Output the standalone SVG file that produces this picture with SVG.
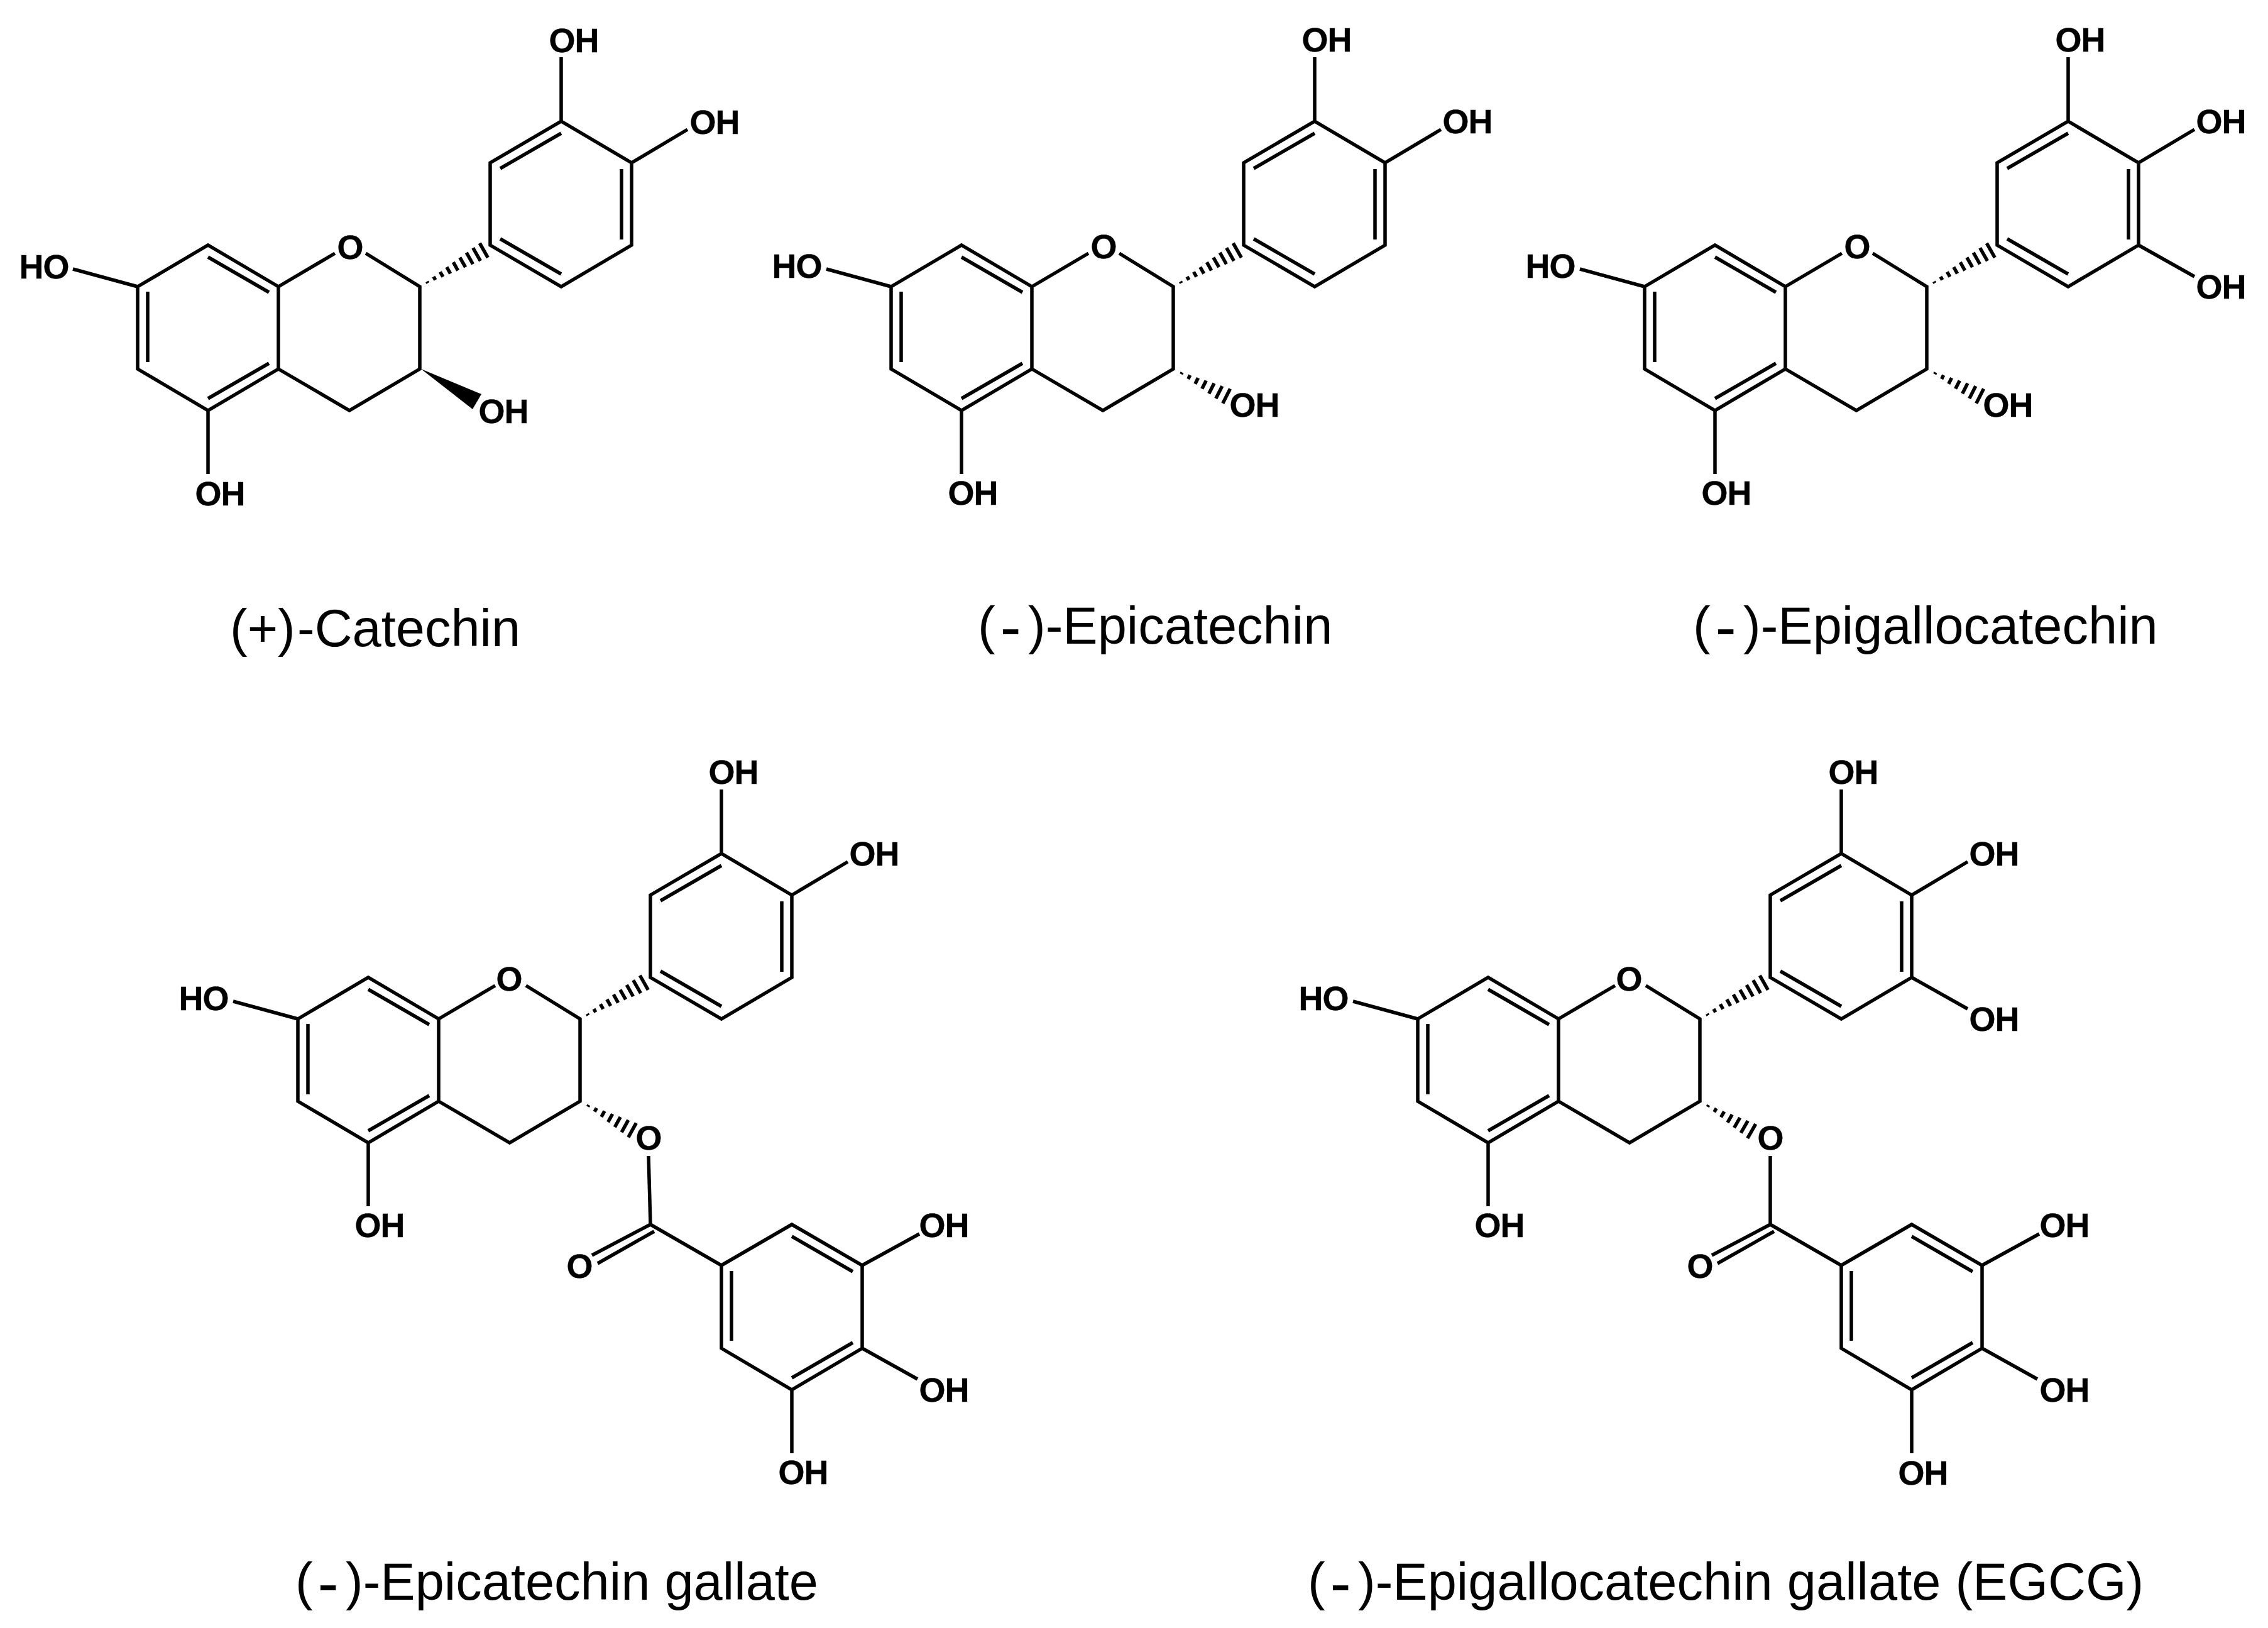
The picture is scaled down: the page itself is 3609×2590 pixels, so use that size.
<svg xmlns="http://www.w3.org/2000/svg" xmlns:xlink="http://www.w3.org/1999/xlink" width="3609" height="2590" viewBox="0 0 3609 2590">
<style>
.b{fill:none;stroke:#000;stroke-width:5.5;stroke-linejoin:miter;stroke-linecap:butt}
.h{fill:none;stroke:#000;stroke-width:5.5}
.a{font-family:"Liberation Sans",Arial,sans-serif;font-weight:700;font-size:54px;letter-spacing:-1px;text-anchor:middle;fill:#000;stroke:#000;stroke-width:.4px}
.n{font-family:"Liberation Sans",Arial,sans-serif;font-size:83px;fill:#000}
.m{font-size:100px}
</style>
<defs>
<path id="flavan" d="M0 0L112 -66L224 0V131L112 197L0 131Z M112 -47L209 9 M16 8V120 M112 178L209 122 M224 0L314 -53 M363 -53L449 0V131L337 197L224 131 M0 0L-103 -28 M112 197V298"/>
<path id="ringB" d="M561 -66V-197L674 -263L786 -197V-66L674 0Z M674 -244L577 -188 M770 -187V-75 M577 -76L674 -20 M674 -263V-365 M786 -197L875 -250"/>
<path id="ox3" d="M786 -66L875 -16"/>
<path id="hashLong" class="h" d="M14 -1.5V1.5M26.9 -3V3M39.8 -4.5V4.5M52.6 -6V6M65.5 -7.5V7.5M78.4 -9V9M91.2 -10.5V10.5M104.1 -12V12M117 -13.3V13.3"/>
<path id="hashShort" class="h" d="M15 -1.5V1.5M28.3 -3.4V3.4M41.7 -5.3V5.3M55 -7.3V7.3M68.3 -9.2V9.2M81.7 -11.1V11.1M95 -13V13"/>
<path id="galloyl" d="M561 327L674 392V524L786 590L898 524V392L786 327L674 392 M561 327L468 376 M567 338L477 389 M786 346L883 402 M690 401V512 M786 571L883 515 M898 392L989 342 M898 524L986 573 M786 590V691"/>
</defs>
<rect width="3609" height="2590" fill="#fff"/>

<g id="catechin" transform="translate(219 456)">
<g class="b"><use href="#flavan"/><use href="#ringB"/></g>
<use href="#hashLong" transform="translate(449 0) rotate(-29.5)"/>
<polygon points="451,131 547,171 533,195" fill="#000"/>
<text class="a" x="338" y="-44">O</text>
<text class="a" x="-149" y="-13">HO</text>
<text class="a" x="131" y="348">OH</text>
<text class="a" x="694" y="-373">OH</text>
<text class="a" x="918" y="-243">OH</text>
<text class="a" x="582" y="217">OH</text>
</g>
<text id="label-catechin" class="n" x="366" y="1028">(+)<tspan x="473">-Catechin</tspan></text>

<g id="epicatechin" transform="translate(1418 456)">
<g class="b"><use href="#flavan"/><use href="#ringB"/></g>
<use href="#hashLong" transform="translate(449 0) rotate(-29.5)"/>
<use href="#hashShort" transform="translate(449 131) rotate(27)"/>
<text class="a" x="338" y="-45">O</text>
<text class="a" x="-150" y="-14">HO</text>
<text class="a" x="130" y="347">OH</text>
<text class="a" x="693" y="-374">OH</text>
<text class="a" x="917" y="-244">OH</text>
<text class="a" x="578" y="207">OH</text>
</g>
<text id="label-epicatechin" class="n" x="1556" y="1024">(<tspan class="m" x="1591.5" y="1032">-</tspan><tspan x="1636" y="1024">)-Epicatechin</tspan></text>

<g id="epigallocatechin" transform="translate(2617 456)">
<g class="b"><use href="#flavan"/><use href="#ringB"/><use href="#ox3"/></g>
<use href="#hashLong" transform="translate(449 0) rotate(-29.5)"/>
<use href="#hashShort" transform="translate(449 131) rotate(27)"/>
<text class="a" x="338" y="-45">O</text>
<text class="a" x="-150" y="-14">HO</text>
<text class="a" x="130" y="347">OH</text>
<text class="a" x="693" y="-374">OH</text>
<text class="a" x="917" y="-244">OH</text>
<text class="a" x="917" y="19">OH</text>
<text class="a" x="578" y="207">OH</text>
</g>
<text id="label-epigallocatechin" class="n" x="2694" y="1024">(<tspan class="m" x="2729.5" y="1032">-</tspan><tspan x="2774" y="1024">)-Epigallocatechin</tspan></text>

<g id="epicatechin-gallate" transform="translate(474 1621)">
<g class="b"><use href="#flavan"/><use href="#ringB"/><use href="#galloyl"/><path d="M558 218L561 327"/></g>
<use href="#hashLong" transform="translate(449 0) rotate(-29.5)"/>
<use href="#hashShort" transform="translate(449 131) rotate(29)"/>
<text class="a" x="336" y="-45">O</text>
<text class="a" x="-150" y="-14">HO</text>
<text class="a" x="130" y="347">OH</text>
<text class="a" x="693" y="-374">OH</text>
<text class="a" x="917" y="-244">OH</text>
<text class="a" x="558" y="208">O</text>
<text class="a" x="448" y="412">O</text>
<text class="a" x="1028" y="347">OH</text>
<text class="a" x="1028" y="609">OH</text>
<text class="a" x="804" y="740">OH</text>
</g>
<text id="label-ecg" class="n" x="470" y="2545">(<tspan class="m" x="505.5" y="2553">-</tspan><tspan x="550" y="2545">)-Epicatechin gallate</tspan></text>

<g id="egcg" transform="translate(2256 1621)">
<g class="b"><use href="#flavan"/><use href="#ringB"/><use href="#ox3"/><use href="#galloyl"/><path d="M561 218V327"/></g>
<use href="#hashLong" transform="translate(449 0) rotate(-29.5)"/>
<use href="#hashShort" transform="translate(449 131) rotate(30)"/>
<text class="a" x="336" y="-45">O</text>
<text class="a" x="-150" y="-14">HO</text>
<text class="a" x="130" y="347">OH</text>
<text class="a" x="693" y="-374">OH</text>
<text class="a" x="917" y="-244">OH</text>
<text class="a" x="917" y="19">OH</text>
<text class="a" x="561" y="208">O</text>
<text class="a" x="449" y="412">O</text>
<text class="a" x="1029" y="347">OH</text>
<text class="a" x="1029" y="609">OH</text>
<text class="a" x="804" y="741">OH</text>
</g>
<text id="label-egcg" class="n" x="2081" y="2545">(<tspan class="m" x="2116.5" y="2553">-</tspan><tspan x="2161" y="2545">)-Epigallocatechin gallate (EGCG)</tspan></text>
</svg>
